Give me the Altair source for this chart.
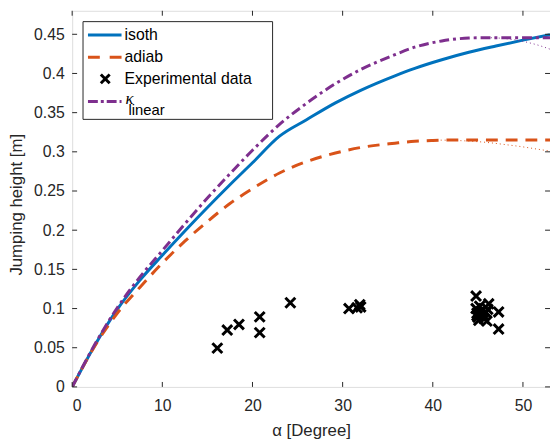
import altair as alt
import pandas as pd

# ---------------- data ----------------
iso_a = [0, 2.5, 5, 7.5, 10, 12.5, 15, 17.5, 20, 23, 26, 29.2, 32, 35.8, 38, 41, 44, 47, 50, 53]
iso_v = [0, 0.053, 0.099, 0.136, 0.168, 0.199, 0.229, 0.258, 0.286, 0.320, 0.341, 0.3625, 0.3785, 0.397, 0.4065, 0.4175, 0.427, 0.435, 0.4425, 0.4495]

adi_a = [0, 2.5, 5, 7.5, 10, 12.5, 15, 17.5, 20, 23, 26, 29.2, 32, 35.8, 38, 40, 42, 53]
adi_v = [0, 0.052, 0.094, 0.127, 0.158, 0.186, 0.211, 0.234, 0.253, 0.273, 0.2875, 0.2985, 0.3055, 0.311, 0.3135, 0.3145, 0.315, 0.315]

kap_a = [0, 2.5, 5, 7.5, 10, 12.5, 15, 17.5, 20, 23, 26, 29.2, 32, 35.8, 38, 41, 44, 46, 53]
kap_v = [0, 0.054, 0.101, 0.140, 0.174, 0.208, 0.241, 0.272, 0.302, 0.335, 0.362, 0.387, 0.405, 0.424, 0.4335, 0.4415, 0.4452, 0.4457, 0.4457]

# thin dotted continuations (beyond the maxima)
kap_dot_a = [46, 47, 48, 49, 49.6, 50.5, 51.8, 53]
kap_dot_v = [0.4457, 0.4454, 0.4445, 0.443, 0.4419, 0.4397, 0.4357, 0.431]
adi_dot_a = [40, 42, 44, 46, 48.2, 50, 51.5, 53]
adi_dot_v = [0.315, 0.3147, 0.3137, 0.312, 0.309, 0.3063, 0.3036, 0.301]

exp_a = [16.1, 17.2, 18.5, 20.8, 20.8, 24.2,
         30.7, 31.6, 31.9, 32.0,
         44.8, 46.2, 47.3, 47.3, 44.8, 44.9, 45.0, 45.1, 45.4, 45.6, 45.7, 45.9, 46.0, 46.1, 45.2, 44.9]
exp_v = [0.0495, 0.0726, 0.0797, 0.0894, 0.0693, 0.1074,
         0.100, 0.101, 0.105, 0.102,
         0.116, 0.106, 0.0957, 0.0738, 0.100, 0.094, 0.089, 0.085, 0.097, 0.092, 0.087, 0.095, 0.084, 0.099, 0.103, 0.091]

series_names = ["isoth", "adiab", "Experimental data"]
kappa_main, kappa_sub = "\u03ba", "linear"

x_ticks = [0, 10, 20, 30, 40, 50]
y_ticks = [0, 0.05, 0.1, 0.15, 0.2, 0.25, 0.3, 0.35, 0.4, 0.45]

# ---------------- styling ----------------
W, H = 484, 381
BLUE, ORANGE, PURPLE = "#0072BD", "#D95319", "#7E2F8E"
AX = "#262626"
FONT = "Liberation Sans"

xs = alt.Scale(domain=[0, 53], nice=False, zero=False)
ys = alt.Scale(domain=[0, 0.48], nice=False, zero=False)

xaxis = alt.Axis(values=x_ticks, title="\u03b1 [Degree]", grid=False, ticks=False, tickSize=0,
                 domain=False, labelFontSize=16, labelFont=FONT, labelColor=AX, labelPadding=11,
                 titleFontSize=17, titleFont=FONT, titleColor=AX, titleFontWeight="normal",
                 titleY=44, titleBaseline="middle")
yaxis = alt.Axis(values=y_ticks, title="Jumping height [m]", grid=False, ticks=False, tickSize=0,
                 domain=False, format="~g", labelFontSize=16, labelFont=FONT, labelColor=AX,
                 labelPadding=8, titleFontSize=17, titleFont=FONT, titleColor=AX,
                 titleFontWeight="normal", titleX=-56, titleY=196, titleBaseline="middle")

def line_df(a, v):
    return pd.DataFrame({"a": a, "v": v})

sx = alt.X("a:Q", scale=xs)
sy = alt.Y("v:Q", scale=ys)

iso = alt.Chart(line_df(iso_a, iso_v)).mark_line(color=BLUE, strokeWidth=3, clip=True, interpolate="monotone").encode(
    x=alt.X("a:Q", scale=xs, axis=xaxis), y=alt.Y("v:Q", scale=ys, axis=yaxis))
adi = alt.Chart(line_df(adi_a, adi_v)).mark_line(color=ORANGE, strokeWidth=3, strokeDash=[12, 8], clip=True,
                                                  interpolate="monotone").encode(x=sx, y=sy)
adi_dot = alt.Chart(line_df(adi_dot_a, adi_dot_v)).mark_line(color=ORANGE, strokeWidth=1, strokeDash=[1, 3], clip=True,
                                                              interpolate="monotone").encode(x=sx, y=sy)
kap = alt.Chart(line_df(kap_a, kap_v)).mark_line(color=PURPLE, strokeWidth=3, strokeDash=[10, 4, 3, 4], clip=True,
                                                  interpolate="monotone").encode(x=sx, y=sy)
kap_dot = alt.Chart(line_df(kap_dot_a, kap_dot_v)).mark_line(color=PURPLE, strokeWidth=1, strokeDash=[1, 3], clip=True,
                                                              interpolate="monotone").encode(x=sx, y=sy)

XPATH = "M-1,-1L1,1M-1,1L1,-1"
exp = alt.Chart(pd.DataFrame({"a": exp_a, "v": exp_v})).mark_point(
    shape=XPATH, size=100, stroke="black", strokeWidth=3, filled=False, opacity=1).encode(x=sx, y=sy)

# inward ticks on all four sides
xt = pd.DataFrame({"a": x_ticks})
yt = pd.DataFrame({"v": y_ticks})
tick_style = dict(color=AX, strokeWidth=1)
xt_bot = alt.Chart(xt).mark_rule(**tick_style).encode(x=sx, y=alt.value(H), y2=alt.value(H - 5))
xt_top = alt.Chart(xt).mark_rule(**tick_style).encode(x=sx, y=alt.value(0), y2=alt.value(5))
yt_l = alt.Chart(yt).mark_rule(**tick_style).encode(y=sy, x=alt.value(0), x2=alt.value(5))
yt_r = alt.Chart(yt).mark_rule(**tick_style).encode(y=sy, x=alt.value(W), x2=alt.value(W - 5))

# legend (drawn by hand, positions in plot-area pixels)
one = pd.DataFrame({"k": [0]})
leg_box = alt.Chart(one).mark_rect(fill="white", stroke=AX, strokeWidth=1).encode(
    x=alt.value(11), x2=alt.value(203), y=alt.value(11), y2=alt.value(110))
LX0, LX1, TX = 16, 50, 53
rows_y = [24.5, 47, 69, 92]
leg_iso = alt.Chart(one).mark_rule(color=BLUE, strokeWidth=3).encode(
    x=alt.value(LX0), x2=alt.value(LX1), y=alt.value(rows_y[0]))
leg_adi = alt.Chart(one).mark_rule(color=ORANGE, strokeWidth=3, strokeDash=[12, 10]).encode(
    x=alt.value(LX0), x2=alt.value(LX1), y=alt.value(rows_y[1]))
leg_exp = alt.Chart(one).mark_point(shape=XPATH, size=80, stroke="black", strokeWidth=3,
                                    filled=False, opacity=1).encode(x=alt.value(33.5), y=alt.value(rows_y[2]))
leg_kap = alt.Chart(one).mark_rule(color=PURPLE, strokeWidth=3, strokeDash=[10, 3, 3, 3]).encode(
    x=alt.value(LX0), x2=alt.value(LX1), y=alt.value(rows_y[3]))
leg_txt = alt.Chart(pd.DataFrame({"t": series_names, "y": rows_y[:3]})).mark_text(
    align="left", baseline="middle", font=FONT, fontSize=16, color="black").encode(
    x=alt.value(TX), y=alt.Y("y:Q", scale=None), text="t:N")
leg_k1 = alt.Chart(pd.DataFrame({"t": [kappa_main]})).mark_text(
    align="left", baseline="alphabetic", font="Liberation Serif", fontStyle="italic", fontSize=17,
    color="black").encode(x=alt.value(TX + 1), y=alt.value(94), text="t:N")
leg_k2 = alt.Chart(pd.DataFrame({"t": [kappa_sub]})).mark_text(
    align="left", baseline="alphabetic", font=FONT, fontSize=15, color="black").encode(
    x=alt.value(TX + 4), y=alt.value(106), text="t:N")

chart = alt.layer(
    iso, adi, adi_dot, exp, kap, kap_dot,
    xt_bot, xt_top, yt_l, yt_r,
    leg_box, leg_iso, leg_adi, leg_exp, leg_kap, leg_txt, leg_k1, leg_k2,
).properties(
    width=W, height=H,
    autosize=alt.AutoSizeParams(type="none"),
    padding={"left": 65, "top": 0, "right": 0, "bottom": 54},
).configure_view(stroke=AX, strokeWidth=1).configure(background="white")

chart.save("out.html", embed_options={"renderer": "svg", "actions": False})
